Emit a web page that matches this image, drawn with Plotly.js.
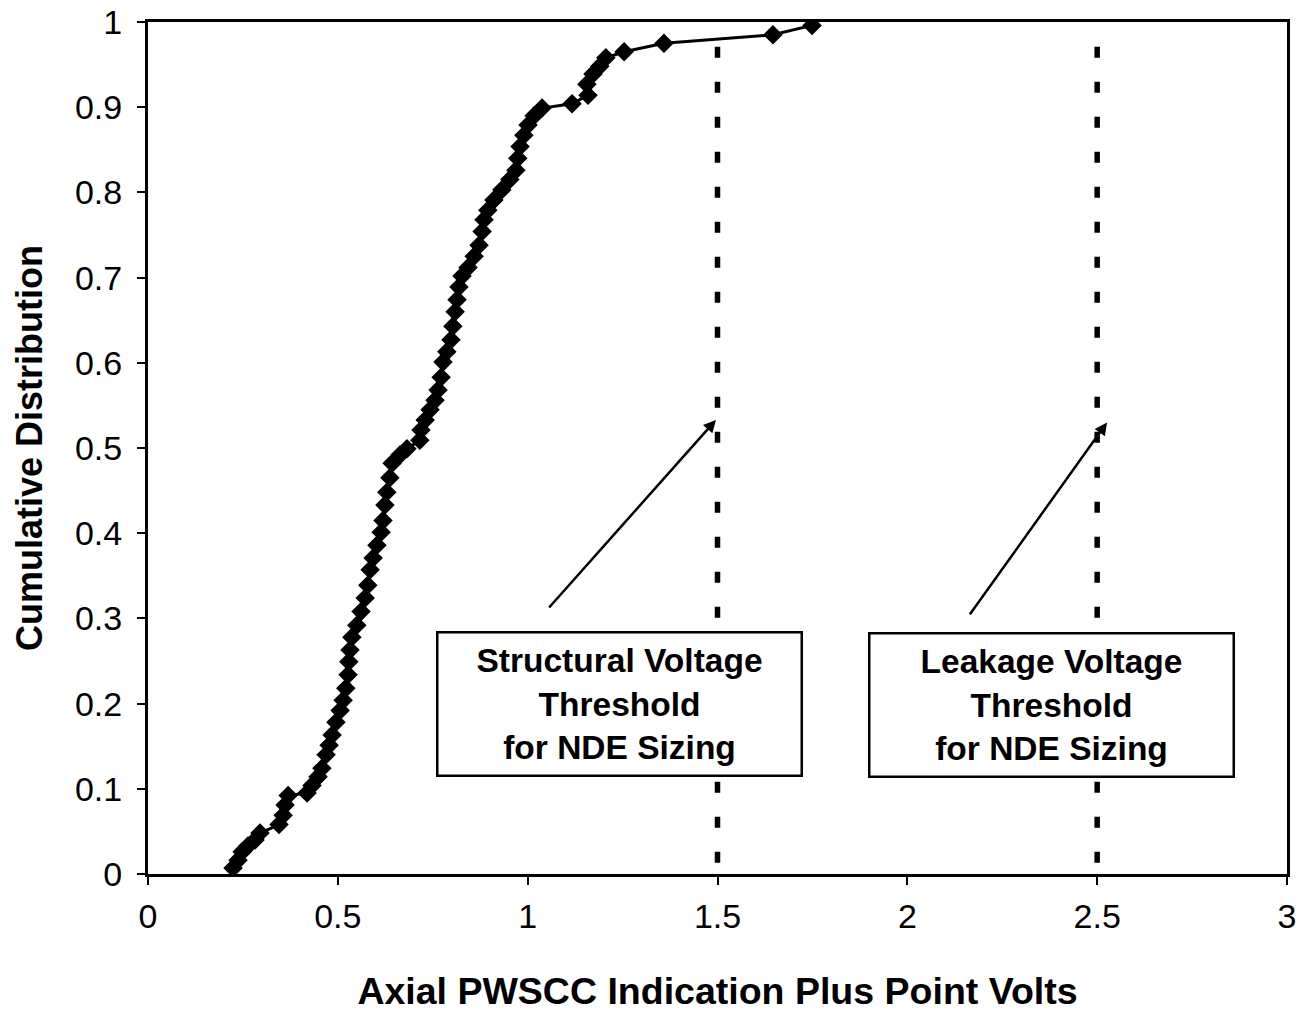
<!DOCTYPE html>
<html>
<head>
<meta charset="utf-8">
<script src="https://cdn.plot.ly/plotly-3.0.1.min.js"></script>
<style>
  html, body { margin: 0; padding: 0; background: #ffffff; }
  #chart { width: 1305px; height: 1013px; }
</style>
</head>
<body>
<div id="chart"></div>
<script>
// Axial PWSCC indications: plus point voltage vs. cumulative fraction
const volts = [
  0.224, 0.237, 0.248, 0.263, 0.282, 0.295, 0.345, 0.356, 0.361, 0.369,
  0.419, 0.432, 0.448, 0.458, 0.469, 0.477, 0.485, 0.495, 0.506, 0.514,
  0.521, 0.527, 0.529, 0.532, 0.537, 0.550, 0.561, 0.572, 0.579, 0.585,
  0.593, 0.603, 0.614, 0.619, 0.624, 0.629, 0.637, 0.643, 0.664, 0.682,
  0.716, 0.719, 0.730, 0.743, 0.756, 0.764, 0.772, 0.777, 0.787, 0.798,
  0.803, 0.809, 0.814, 0.819, 0.827, 0.843, 0.859, 0.872, 0.880, 0.885,
  0.895, 0.911, 0.932, 0.953, 0.969, 0.974, 0.980, 0.990, 1.001, 1.017,
  1.038, 1.117, 1.159, 1.156, 1.172, 1.190, 1.206, 1.254, 1.359, 1.646,
  1.749
];
const cumulative = [
  0.007, 0.016, 0.026, 0.033, 0.040, 0.048, 0.058, 0.069, 0.081, 0.092,
  0.095, 0.104, 0.114, 0.124, 0.140, 0.151, 0.163, 0.178, 0.192, 0.204,
  0.218, 0.234, 0.249, 0.263, 0.278, 0.292, 0.308, 0.324, 0.339, 0.357,
  0.371, 0.386, 0.401, 0.415, 0.433, 0.448, 0.465, 0.482, 0.492, 0.499,
  0.509, 0.521, 0.533, 0.545, 0.556, 0.568, 0.583, 0.601, 0.613, 0.627,
  0.643, 0.660, 0.674, 0.689, 0.702, 0.712, 0.725, 0.738, 0.754, 0.768,
  0.779, 0.791, 0.803, 0.815, 0.826, 0.840, 0.854, 0.867, 0.879, 0.890,
  0.899, 0.904, 0.914, 0.927, 0.939, 0.948, 0.958, 0.965, 0.975, 0.985,
  0.996
];

// Threshold lines and their call-out labels
const thresholds = [1.5, 2.5];
const thresholdTop = 0.971;
const thresholdLabels = [
  'Structural Voltage<br>Threshold<br>for NDE Sizing',
  'Leakage Voltage<br>Threshold<br>for NDE Sizing'
];
const labelCenters = [[1.243, 0.199], [2.381, 0.198]];
const arrowTails = [[1.053, 0.311], [2.162, 0.303]];
const arrowHeads = [[1.496, 0.533], [2.526, 0.530]];

const xTicks = [0, 0.5, 1, 1.5, 2, 2.5, 3];
const xTickText = ['0', '0.5', '1', '1.5', '2', '2.5', '3'];
const yTicks = [0, 0.1, 0.2, 0.3, 0.4, 0.5, 0.6, 0.7, 0.8, 0.9, 1];
const yTickText = ['0', '0.1', '0.2', '0.3', '0.4', '0.5', '0.6', '0.7', '0.8', '0.9', '1'];

const FONT = 'Liberation Sans, Arial, sans-serif';

const traces = [{
  x: volts,
  y: cumulative,
  type: 'scatter',
  mode: 'lines+markers',
  line: { color: '#000000', width: 3 },
  marker: { symbol: 'diamond', size: 15, color: '#000000', line: { width: 0 } },
  hoverinfo: 'x+y',
  showlegend: false
}];

const shapes = thresholds.map(t => ({
  type: 'line', xref: 'x', yref: 'y',
  x0: t, x1: t, y0: thresholdTop, y1: 0,
  line: { color: '#000000', width: 5.5, dash: '11px,24px' }
}));

const annotations = [];
thresholdLabels.forEach((txt, i) => {
  annotations.push({
    xref: 'x', yref: 'y',
    x: labelCenters[i][0], y: labelCenters[i][1],
    text: '<b>' + txt + '</b>',
    showarrow: false,
    align: 'center',
    width: 362, height: 141,
    bgcolor: '#ffffff',
    bordercolor: '#000000', borderwidth: 2.5, borderpad: 0,
    font: { family: FONT, size: 33.5, color: '#000000' }
  });
  annotations.push({
    xref: 'x', yref: 'y', axref: 'x', ayref: 'y',
    x: arrowHeads[i][0], y: arrowHeads[i][1],
    ax: arrowTails[i][0], ay: arrowTails[i][1],
    text: '', showarrow: true,
    arrowhead: 2, arrowsize: 1, arrowwidth: 2.5, arrowcolor: '#000000'
  });
});

const layout = {
  width: 1305, height: 1013,
  margin: { l: 148, r: 18, t: 22, b: 139 },
  paper_bgcolor: '#ffffff', plot_bgcolor: '#ffffff',
  font: { family: FONT, color: '#000000' },
  xaxis: {
    range: [0, 3],
    tickvals: xTicks, ticktext: xTickText,
    ticks: 'outside', ticklen: 8, tickwidth: 2, tickcolor: '#000000',
    tickfont: { family: FONT, size: 34, color: '#000000' },
    ticklabelstandoff: 2,
    showline: true, linecolor: '#000000', linewidth: 3, mirror: true,
    showgrid: false, zeroline: false,
    title: { text: '<b>Axial PWSCC Indication Plus Point Volts</b>',
             font: { family: FONT, size: 37.5, color: '#000000' }, standoff: 44 }
  },
  yaxis: {
    range: [0, 1],
    tickvals: yTicks, ticktext: yTickText,
    ticks: 'outside', ticklen: 8, tickwidth: 2, tickcolor: '#000000',
    tickfont: { family: FONT, size: 34, color: '#000000' },
    ticklabelstandoff: 8,
    showline: true, linecolor: '#000000', linewidth: 3, mirror: true,
    showgrid: false, zeroline: false,
    title: { text: '<b>Cumulative Distribution</b>',
             font: { family: FONT, size: 36, color: '#000000' }, standoff: 22 }
  },
  shapes: shapes,
  annotations: annotations
};

Plotly.newPlot('chart', traces, layout, { displayModeBar: false, staticPlot: true });
</script>
</body>
</html>
